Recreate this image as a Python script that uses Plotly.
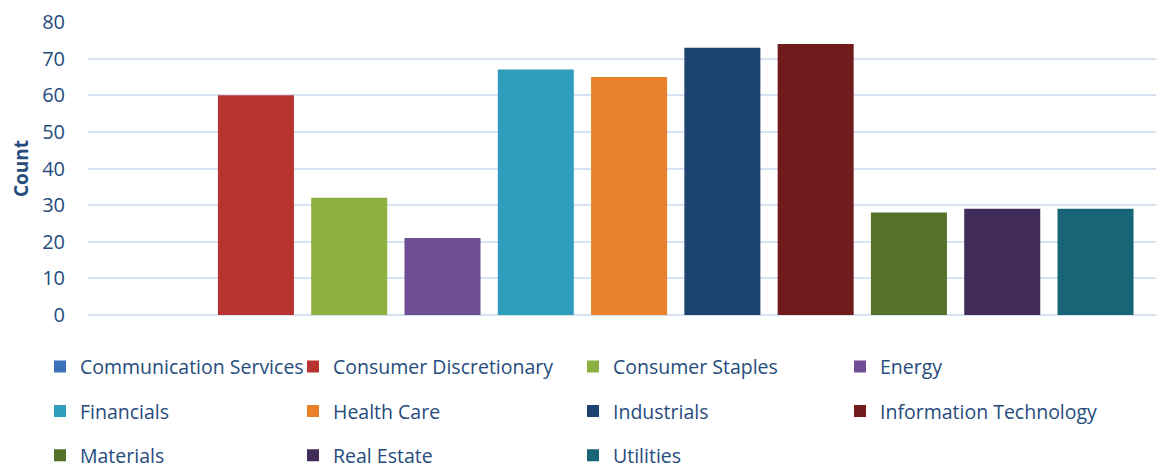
import plotly.graph_objects as go

categories = ["Communication Services", "Consumer Discretionary", "Consumer Staples", "Energy",
              "Financials", "Health Care", "Industrials", "Information Technology",
              "Materials", "Real Estate", "Utilities"]
counts = [0, 60, 32, 21, 67, 65, 73, 74, 28, 29, 29]
colors = ["#3C72B8", "#B7332F", "#8DB043", "#6E4F95", "#2F9EBE", "#E9812A",
          "#1C4370", "#701C1C", "#55722A", "#412C59", "#186577"]
y_ticks = [0, 10, 20, 30, 40, 50, 60, 70, 80]
y_title = "Count"

TEXT = "#264B7D"
FONT = "Open Sans"
# the page body has an 8px margin, so the figure is drawn 8px smaller
W, H = 1156, 460
L, R, T, B = 80, 0, 14, 152.5
plot_w = W - L - R
plot_h = H - T - B

fig = go.Figure()
col_px = [32, 285, 565, 832]
for i, (cat, val, col) in enumerate(zip(categories, counts, colors)):
    c = i % 4
    lname = "legend" if c == 0 else f"legend{c+1}"
    fig.add_trace(go.Bar(
        x=[cat], y=[val], name=cat, legend=lname, legendgroup=cat,
        marker=dict(color=col, line=dict(width=0)), width=0.815,
    ))

legend_top_px = 340
legends = {}
for c in range(4):
    key = "legend" if c == 0 else f"legend{c+1}"
    legends[key] = dict(
        x=(col_px[c] - L) / plot_w, xanchor="left",
        y=-(legend_top_px - (H - B)) / plot_h, yanchor="top",
        orientation="v", tracegroupgap=16,
        font=dict(family=FONT, size=19.5, color=TEXT),
        bgcolor="rgba(0,0,0,0)", borderwidth=0,
    )

fig.update_layout(
    width=W, height=H,
    margin=dict(l=L, r=R, t=T, b=B, pad=0, autoexpand=False),
    paper_bgcolor="white", plot_bgcolor="white",
    barmode="overlay",
    showlegend=True,
    font=dict(family=FONT, color=TEXT),
    xaxis=dict(type="category", categoryorder="array", categoryarray=categories,
               range=[-0.80, 10.734], showticklabels=False, showgrid=False,
               zeroline=False, showline=False, ticks=""),
    yaxis=dict(range=[0, 80], tickvals=y_ticks, showgrid=True, gridcolor="#D7E2F2",
               gridwidth=2, zeroline=True, zerolinecolor="#D7E2F2", zerolinewidth=2,
               showline=False, ticks="", ticklabelstandoff=22,
               tickfont=dict(family=FONT, size=20, color=TEXT),
               title=dict(text="<b>" + y_title + "</b>", standoff=8,
                          font=dict(family=FONT, size=19, color=TEXT))),
    **legends,
)

fig.write_html("out.html")
